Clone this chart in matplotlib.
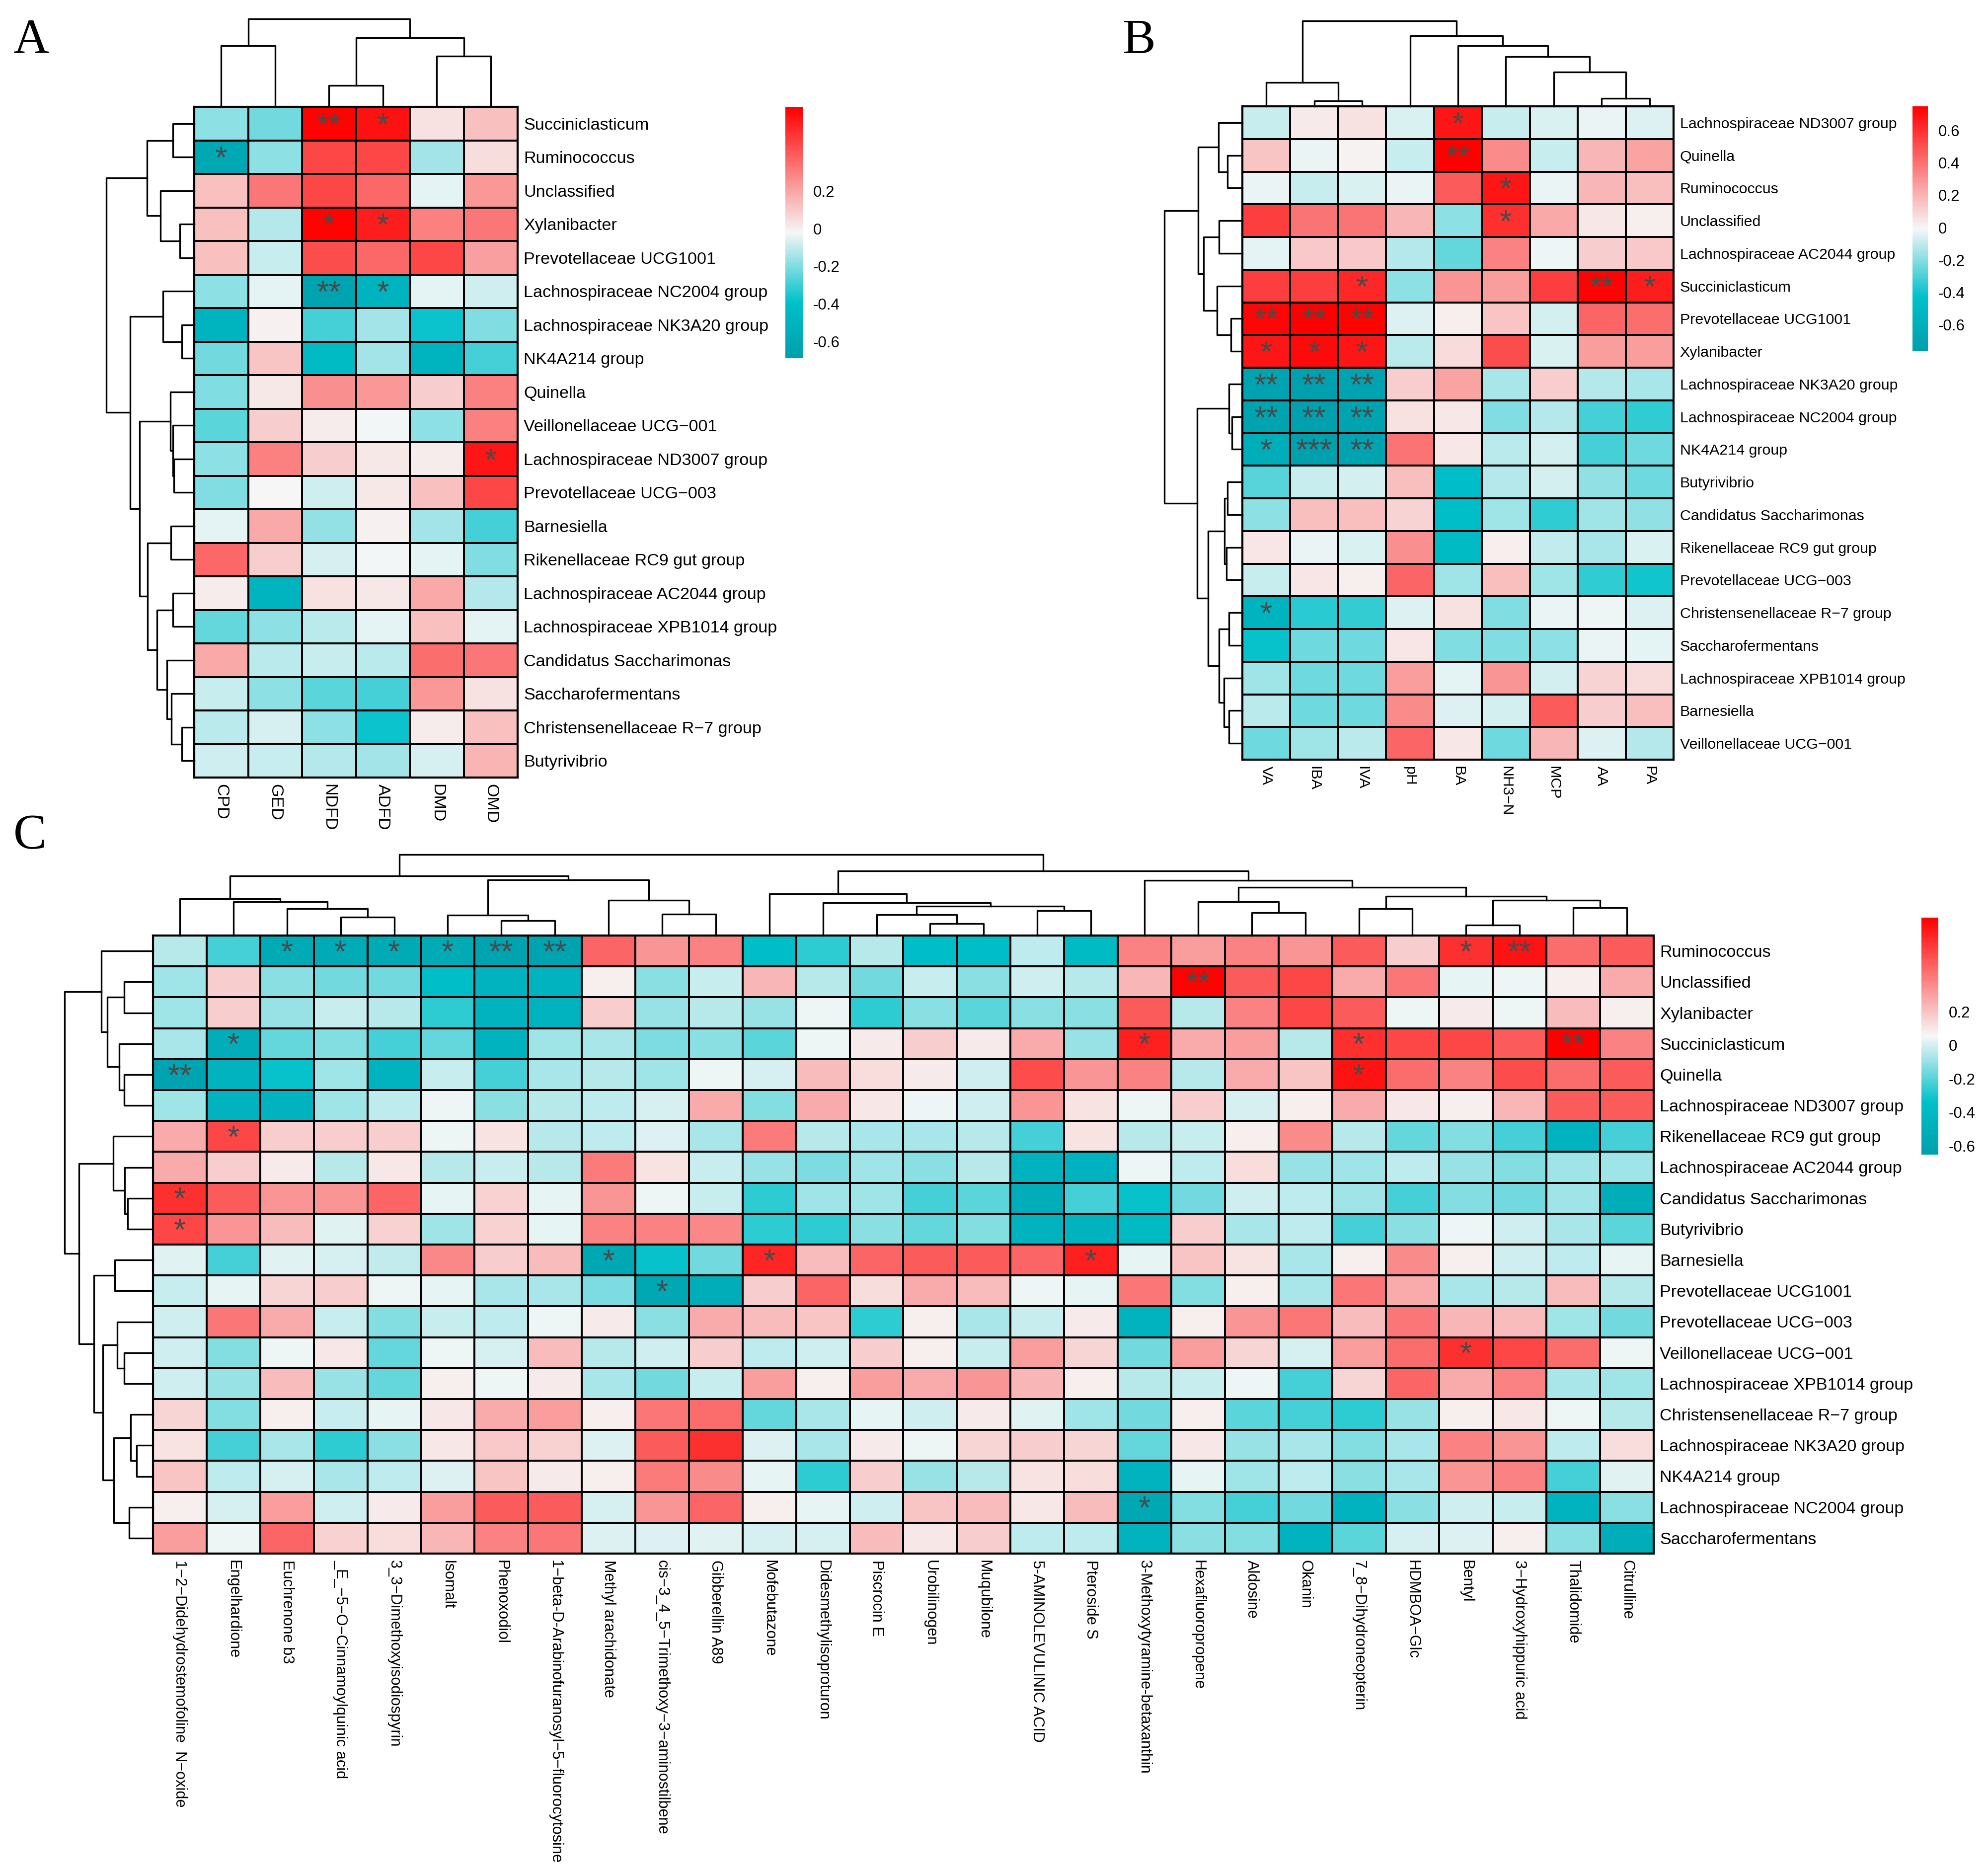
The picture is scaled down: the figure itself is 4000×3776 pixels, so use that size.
import numpy as np
import matplotlib
matplotlib.use("Agg")
import matplotlib.pyplot as plt
from matplotlib.colors import LinearSegmentedColormap

plt.rcParams['font.family'] = ['Liberation Sans', 'DejaVu Sans']

# ---------------- panel A ----------------
a_rows = ["Succiniclasticum", "Ruminococcus", "Unclassified", "Xylanibacter",
          "Prevotellaceae UCG1001", "Lachnospiraceae NC2004 group",
          "Lachnospiraceae NK3A20 group", "NK4A214 group", "Quinella",
          "Veillonellaceae UCG−001", "Lachnospiraceae ND3007 group",
          "Prevotellaceae UCG−003", "Barnesiella", "Rikenellaceae RC9 gut group",
          "Lachnospiraceae AC2044 group", "Lachnospiraceae XPB1014 group",
          "Candidatus Saccharimonas", "Saccharofermentans",
          "Christensenellaceae R−7 group", "Butyrivibrio"]
a_cols = ["CPD", "GED", "NDFD", "ADFD", "DMD", "OMD"]
a_vals = [
    [-0.18, -0.22, 0.64, 0.60, 0.04, 0.13],
    [-0.62, -0.18, 0.46, 0.46, -0.15, 0.05],
    [0.13, 0.33, 0.46, 0.37, -0.05, 0.24],
    [0.13, -0.12, 0.64, 0.57, 0.30, 0.33],
    [0.13, -0.09, 0.44, 0.37, 0.46, 0.22],
    [-0.18, -0.05, -0.66, -0.51, -0.05, -0.08],
    [-0.51, 0.00, -0.29, -0.15, -0.38, -0.20],
    [-0.22, 0.12, -0.45, -0.15, -0.51, -0.29],
    [-0.20, 0.02, 0.26, 0.24, 0.09, 0.30],
    [-0.26, 0.09, 0.01, -0.03, -0.18, 0.30],
    [-0.18, 0.30, 0.09, 0.02, 0.01, 0.59],
    [-0.20, -0.02, -0.08, 0.02, 0.13, 0.46],
    [-0.05, 0.19, -0.17, 0.00, -0.15, -0.29],
    [0.37, 0.09, -0.07, -0.03, -0.05, -0.20],
    [0.01, -0.51, 0.04, 0.02, 0.19, -0.12],
    [-0.24, -0.18, -0.11, -0.05, 0.13, -0.05],
    [0.19, -0.11, -0.09, -0.11, 0.35, 0.33],
    [-0.09, -0.18, -0.26, -0.29, 0.24, 0.04],
    [-0.11, -0.07, -0.18, -0.38, 0.01, 0.13],
    [-0.08, -0.09, -0.12, -0.15, -0.07, 0.16],
]
a_stars = {(0, 2): '**', (0, 3): '*', (1, 0): '*', (3, 2): '*', (3, 3): '*',
           (5, 2): '**', (5, 3): '*', (10, 5): '*'}
# trees: (left, right, merge height); leaves are display positions
a_col_tree = ((0, 1, 123), ((2, 3, 43), (4, 5, 102), 139), 177)
a_row_tree = (((0, 1, 43), (2, (3, 4, 29), 68), 95),
              ((5, (6, 7, 25), 63),
               ((8, (9, (10, 11, 41), 43), 48),
                ((12, 13, 47),
                 ((14, 15, 43), (16, (17, (18, 19, 25), 46), 55), 75), 94),
                110), 129), 177)

# ---------------- panel B ----------------
b_rows = ["Lachnospiraceae ND3007 group", "Quinella", "Ruminococcus", "Unclassified",
          "Lachnospiraceae AC2044 group", "Succiniclasticum", "Prevotellaceae UCG1001",
          "Xylanibacter", "Lachnospiraceae NK3A20 group", "Lachnospiraceae NC2004 group",
          "NK4A214 group", "Butyrivibrio", "Candidatus Saccharimonas",
          "Rikenellaceae RC9 gut group", "Prevotellaceae UCG−003",
          "Christensenellaceae R−7 group", "Saccharofermentans",
          "Lachnospiraceae XPB1014 group", "Barnesiella", "Veillonellaceae UCG−001"]
b_cols = ["VA", "IBA", "IVA", "pH", "BA", "NH3−N", "MCP", "AA", "PA"]
b_vals = [
    [-0.09, 0.03, 0.06, -0.06, 0.68, -0.09, -0.06, -0.03, -0.05],
    [0.15, -0.03, 0.01, -0.09, 0.75, 0.32, -0.09, 0.19, 0.25],
    [-0.03, -0.09, -0.06, -0.03, 0.47, 0.68, -0.03, 0.19, 0.17],
    [0.56, 0.39, 0.39, 0.19, -0.19, 0.60, 0.23, 0.04, 0.02],
    [-0.04, 0.14, 0.14, -0.12, -0.26, 0.35, -0.02, 0.12, 0.14],
    [0.56, 0.56, 0.63, -0.19, 0.29, 0.27, 0.56, 0.74, 0.66],
    [0.73, 0.75, 0.74, -0.05, 0.02, 0.15, -0.07, 0.44, 0.41],
    [0.68, 0.72, 0.68, -0.11, 0.08, 0.51, -0.06, 0.27, 0.27],
    [-0.72, -0.75, -0.72, 0.12, 0.25, -0.14, 0.12, -0.12, -0.14],
    [-0.72, -0.75, -0.72, 0.06, 0.04, -0.21, -0.12, -0.31, -0.35],
    [-0.62, -0.76, -0.72, 0.39, 0.04, -0.11, -0.07, -0.31, -0.24],
    [-0.28, -0.09, -0.07, 0.17, -0.46, -0.12, -0.07, -0.18, -0.24],
    [-0.19, 0.17, 0.17, 0.10, -0.46, -0.16, -0.35, -0.16, -0.18],
    [0.05, -0.03, -0.06, 0.31, -0.50, 0.02, -0.10, -0.14, -0.06],
    [-0.09, 0.05, 0.02, 0.44, -0.16, 0.17, -0.16, -0.35, -0.40],
    [-0.56, -0.36, -0.34, -0.05, 0.06, -0.21, -0.03, -0.02, -0.05],
    [-0.42, -0.24, -0.24, 0.05, -0.21, -0.21, -0.19, -0.03, -0.04],
    [-0.16, -0.24, -0.24, 0.27, -0.04, 0.29, -0.07, 0.10, 0.08],
    [-0.11, -0.24, -0.24, 0.32, -0.05, -0.07, 0.47, 0.12, 0.17],
    [-0.24, -0.16, -0.11, 0.44, 0.04, -0.24, 0.19, -0.05, -0.12],
]
b_stars = {(0, 4): '*', (1, 4): '**', (2, 5): '*', (3, 5): '*', (5, 2): '*',
           (5, 7): '**', (5, 8): '*', (6, 0): '**', (6, 1): '**', (6, 2): '**',
           (7, 0): '*', (7, 1): '*', (7, 2): '*', (8, 0): '**', (8, 1): '**',
           (8, 2): '**', (9, 0): '**', (9, 1): '**', (9, 2): '**', (10, 0): '*',
           (10, 1): '***', (10, 2): '**', (15, 0): '*'}
b_col_tree = ((0, (1, 2, 11), 48),
              (3, (4, (5, (6, (7, 8, 16), 69), 100), 122), 142), 172)
b_row_tree = (((0, (1, 2, 30), 48), ((3, 4, 47), (5, (6, 7, 23), 51), 78), 89),
              ((8, (9, 10, 21), 27),
               (((11, 12, 30), (13, 14, 32), 36),
                ((15, 16, 27), (17, (18, 19, 27), 37), 47), 69), 91), 157)

# ---------------- panel C ----------------
c_rows = ["Ruminococcus", "Unclassified", "Xylanibacter", "Succiniclasticum", "Quinella",
          "Lachnospiraceae ND3007 group", "Rikenellaceae RC9 gut group",
          "Lachnospiraceae AC2044 group", "Candidatus Saccharimonas", "Butyrivibrio",
          "Barnesiella", "Prevotellaceae UCG1001", "Prevotellaceae UCG−003",
          "Veillonellaceae UCG−001", "Lachnospiraceae XPB1014 group",
          "Christensenellaceae R−7 group", "Lachnospiraceae NK3A20 group",
          "NK4A214 group", "Lachnospiraceae NC2004 group", "Saccharofermentans"]
c_cols = ["1−2−Didehydrostemofoline  N−oxide", "Engelhardione", "Euchrenone b3",
          "_E_−5−O−Cinnamoylquinic acid", "3_3−Dimethoxyisodiospyrin", "Isomalt",
          "Phenoxodiol", "1−beta-D-Arabinofuranosyl−5−fluorocytosine",
          "Methyl arachidonate", "cis−3_4_5−Trimethoxy−3−aminostilbene",
          "Gibberellin A89", "Mofebutazone", "Didesmethylisoproturon", "Piscrocin E",
          "Urobilinogen", "Muqubilone", "5-AMINOLEVULINIC ACID", "Pteroside S",
          "3-Methoxytyramine-betaxanthin", "Hexafluoropropene", "Aldosine", "Okanin",
          "7_8−Dihydroneopterin", "HDMBOA−Glc", "Bentyl", "3−Hydroxyhippuric acid",
          "Thalidomide", "Citrulline"]
c_vals = [
    [-0.05, -0.23, -0.55, -0.55, -0.55, -0.55, -0.62, -0.62, 0.47, 0.33, 0.39, -0.37, -0.27, -0.05,
     -0.37, -0.37, -0.04, -0.41, 0.39, 0.31, 0.39, 0.33, 0.50, 0.17, 0.62, 0.70, 0.45, 0.50],
    [-0.09, 0.17, -0.12, -0.16, -0.16, -0.37, -0.47, -0.47, 0.08, -0.12, -0.02, 0.24, -0.05, -0.16,
     -0.02, -0.12, -0.01, -0.05, 0.24, 0.75, 0.50, 0.56, 0.27, 0.42, 0.03, 0.04, 0.08, 0.27],
    [-0.09, 0.17, -0.10, -0.02, -0.05, -0.27, -0.47, -0.47, 0.17, -0.10, -0.05, -0.10, 0.04, -0.27,
     -0.12, -0.20, -0.12, -0.12, 0.50, -0.05, 0.39, 0.56, 0.50, 0.04, 0.09, 0.04, 0.22, 0.08],
    [-0.07, -0.53, -0.18, -0.13, -0.23, -0.18, -0.47, -0.09, -0.07, -0.14, -0.12, -0.20, 0.04, 0.09,
     0.17, 0.09, 0.27, -0.10, 0.67, 0.27, 0.31, -0.05, 0.62, 0.56, 0.56, 0.50, 0.76, 0.39],
    [-0.62, -0.47, -0.33, -0.09, -0.47, -0.02, -0.23, -0.07, -0.05, -0.09, 0.04, 0.00, 0.22, 0.13,
     0.09, -0.01, 0.54, 0.33, 0.39, -0.05, 0.27, 0.20, 0.70, 0.45, 0.39, 0.54, 0.45, 0.50],
    [-0.09, -0.47, -0.47, -0.09, -0.04, 0.04, -0.12, -0.05, -0.04, 0.00, 0.27, -0.13, 0.27, 0.10,
     0.04, -0.01, 0.33, 0.11, 0.04, 0.17, 0.00, 0.08, 0.27, 0.10, 0.08, 0.24, 0.50, 0.50],
    [0.27, 0.56, 0.17, 0.17, 0.17, 0.04, 0.11, -0.05, -0.04, 0.01, -0.07, 0.41, -0.05, -0.07,
     -0.07, -0.05, -0.23, 0.11, -0.05, -0.02, 0.08, 0.36, -0.05, -0.18, -0.13, -0.23, -0.47, -0.23],
    [0.27, 0.17, 0.09, -0.05, 0.10, -0.05, -0.02, -0.05, 0.41, 0.11, -0.02, -0.10, -0.14, -0.09,
     -0.12, -0.05, -0.47, -0.47, 0.04, -0.04, 0.13, -0.10, -0.09, -0.04, -0.10, -0.13, -0.09, -0.09],
    [0.62, 0.50, 0.33, 0.33, 0.47, 0.03, 0.16, 0.03, 0.33, 0.04, -0.02, -0.27, -0.09, -0.09,
     -0.23, -0.20, -0.53, -0.23, -0.33, -0.16, -0.01, -0.04, -0.09, -0.23, -0.13, -0.16, -0.09, -0.53],
    [0.56, 0.33, 0.22, 0.02, 0.16, -0.09, 0.16, 0.03, 0.39, 0.39, 0.37, -0.27, -0.27, -0.12,
     -0.18, -0.13, -0.47, -0.47, -0.41, 0.17, -0.07, -0.04, -0.23, -0.12, 0.04, -0.01, -0.07, -0.20],
    [0.02, -0.23, 0.02, 0.00, -0.03, 0.37, 0.17, 0.22, -0.58, -0.33, -0.16, 0.65, 0.22, 0.47,
     0.50, 0.50, 0.47, 0.67, 0.03, 0.20, 0.11, -0.07, 0.08, 0.36, 0.08, -0.01, -0.04, 0.03],
    [-0.02, 0.03, 0.15, 0.17, 0.04, 0.03, -0.07, -0.07, -0.14, -0.58, -0.53, 0.17, 0.47, 0.13,
     0.27, 0.22, 0.04, 0.03, 0.42, -0.13, 0.08, -0.07, 0.42, 0.27, -0.07, -0.05, 0.22, -0.05],
    [-0.01, 0.42, 0.27, -0.02, -0.13, -0.02, -0.04, 0.04, 0.09, -0.12, 0.27, 0.22, 0.20, -0.27,
     0.08, -0.07, -0.02, 0.09, -0.47, 0.08, 0.33, 0.42, 0.22, 0.42, 0.24, 0.22, -0.09, -0.16],
    [-0.01, -0.13, 0.04, 0.10, -0.18, 0.04, 0.00, 0.22, -0.05, -0.01, 0.17, -0.04, -0.01, 0.17,
     0.08, -0.02, 0.31, 0.15, -0.16, 0.31, 0.15, 0.00, 0.31, 0.45, 0.62, 0.56, 0.45, 0.04],
    [-0.01, -0.10, 0.22, -0.10, -0.18, 0.08, 0.04, 0.09, -0.07, -0.16, -0.02, 0.31, 0.08, 0.31,
     0.27, 0.33, 0.24, 0.08, -0.05, -0.02, 0.04, -0.23, 0.15, 0.47, 0.27, 0.39, -0.07, -0.09],
    [0.15, -0.13, 0.08, -0.02, 0.03, 0.10, 0.27, 0.31, 0.08, 0.42, 0.45, -0.18, -0.07, 0.03,
     -0.01, 0.09, 0.02, -0.09, -0.16, 0.08, -0.20, -0.23, -0.27, -0.10, 0.08, 0.10, 0.04, -0.05],
    [0.11, -0.23, -0.07, -0.27, -0.12, 0.10, 0.19, 0.16, 0.01, 0.50, 0.62, 0.01, -0.07, 0.09,
     0.04, 0.15, 0.17, 0.15, -0.18, 0.10, -0.10, -0.07, -0.13, -0.07, 0.39, 0.33, -0.04, 0.13],
    [0.20, -0.04, 0.00, -0.07, -0.04, 0.01, 0.20, 0.09, 0.08, 0.41, 0.36, 0.03, -0.27, 0.17,
     -0.10, -0.05, 0.11, 0.13, -0.47, 0.03, -0.09, -0.04, -0.12, -0.07, 0.33, 0.39, -0.23, 0.02],
    [0.08, 0.00, 0.31, -0.01, 0.09, 0.31, 0.50, 0.50, 0.00, 0.33, 0.47, 0.08, 0.03, -0.01,
     0.20, 0.22, 0.10, 0.22, -0.58, -0.13, -0.23, -0.16, -0.47, -0.12, -0.01, -0.02, -0.47, -0.12],
    [0.31, 0.04, 0.47, 0.16, 0.13, 0.24, 0.39, 0.42, 0.01, 0.01, 0.02, 0.00, 0.00, 0.22,
     0.10, 0.17, -0.04, -0.04, -0.47, -0.12, -0.13, -0.47, -0.20, 0.00, 0.01, 0.08, -0.12, -0.53],
]
c_stars = {(0, 2): '*', (0, 3): '*', (0, 4): '*', (0, 5): '*', (0, 6): '**', (0, 7): '**',
           (0, 24): '*', (0, 25): '**', (1, 19): '**', (3, 1): '*', (3, 18): '*',
           (3, 22): '*', (3, 26): '**', (4, 0): '**', (4, 22): '*', (6, 1): '*',
           (8, 0): '*', (9, 0): '*', (10, 8): '*', (10, 11): '*', (10, 17): '*',
           (11, 9): '*', (13, 24): '*', (18, 18): '*'}
c_col_tree = (((0, (1, (2, (3, 4, 37), 54), 68), 74),
               ((5, (6, 7, 30), 41), (8, (9, 10, 43), 71), 112), 120),
              ((11, (12, ((13, (14, 15, 24), 42), (16, 17, 50), 59), 66), 84),
               (18, ((19, (20, 21, 46), 68),
                     ((22, 23, 54), ((24, 25, 21), (26, 27, 56), 71), 79), 97), 111),
               130), 163)
c_row_tree = ((0, ((1, 2, 58), (3, (4, 5, 58), 68), 92), 104),
              ((6, (7, (8, 9, 51), 57), 80),
               ((10, 11, 77),
                ((12, (13, 14, 58), 72), ((15, (16, 17, 33), 45), (18, 19, 48), 79), 101),
                119), 149), 178)

# ------------------------------------------------
W, H = 4000, 3776
fig = plt.figure(figsize=(W / 300, H / 300), dpi=300)

cmap = LinearSegmentedColormap.from_list(
    'tealred', [(0.0, '#00A0AD'), (0.22, '#00C1CA'), (0.5, '#F7F7F7'), (1.0, '#FF0000')])


def px_box(x0, y0, x1, y1):
    return [x0 / W, 1 - y1 / H, (x1 - x0) / W, (y1 - y0) / H]


def draw_tree(ax, node, side):
    if isinstance(node, int):
        return node + 0.5, 0.0
    left, right, h = node
    c1, h1 = draw_tree(ax, left, side)
    c2, h2 = draw_tree(ax, right, side)
    xs, ys = [c1, c1, c2, c2], [h1, h, h, h2]
    if side == 'left':
        xs, ys = ys, xs
    ax.plot(xs, ys, color='black', lw=0.8, clip_on=False)
    return (c1 + c2) / 2, h


def panel(vals, rows, cols, stars, row_tree, col_tree, hm, cb, vrange, ticks,
          row_fs=8.2, col_fs=8.2):
    vals = np.array(vals)
    nr, nc = vals.shape
    x0, y0, x1, y1 = hm
    vmin, vmax = vrange

    ax = fig.add_axes(px_box(*hm))
    ax.pcolormesh(np.arange(nc + 1), np.arange(nr + 1), vals, cmap=cmap,
                  vmin=vmin, vmax=vmax, edgecolors='black', linewidth=0.9)
    ax.set_xlim(0, nc)
    ax.set_ylim(nr, 0)
    for s in ax.spines.values():
        s.set_linewidth(1.0)
    ax.set_yticks(np.arange(nr) + 0.5)
    ax.set_yticklabels(rows, fontsize=row_fs)
    ax.yaxis.tick_right()
    ax.set_xticks(np.arange(nc) + 0.5)
    ax.set_xticklabels(cols, fontsize=col_fs, rotation=270)
    ax.tick_params(length=0, pad=3)
    for (r, c), s in stars.items():
        ax.text(c + 0.5, r + 0.58, s, ha='center', va='center', color='#4a4a4a',
                fontsize=15)

    # column dendrogram
    root_c = col_tree[2]
    axt = fig.add_axes(px_box(x0, y0 - root_c, x1, y0))
    draw_tree(axt, col_tree, 'top')
    axt.set_xlim(0, nc)
    axt.set_ylim(0, root_c)
    axt.axis('off')

    # row dendrogram
    root_r = row_tree[2]
    axl = fig.add_axes(px_box(x0 - root_r, y0, x0, y1))
    draw_tree(axl, row_tree, 'left')
    axl.set_xlim(root_r, 0)
    axl.set_ylim(nr, 0)
    axl.axis('off')

    # colour legend
    axc = fig.add_axes(px_box(*cb))
    axc.imshow(np.linspace(vmax, vmin, 300)[:, None], aspect='auto', cmap=cmap,
               vmin=vmin, vmax=vmax, extent=[0, 1, vmin, vmax])
    axc.set_xticks([])
    axc.yaxis.tick_right()
    axc.set_yticks(ticks)
    axc.set_yticklabels([('%g' % t) for t in ticks], fontsize=7.5)
    axc.tick_params(length=0, pad=5)
    for s in axc.spines.values():
        s.set_visible(False)


panel(a_vals, a_rows, a_cols, a_stars, a_row_tree, a_col_tree,
      (391, 215, 1042, 1565), (1581, 215, 1616, 721), (-0.69, 0.65),
      [0.2, 0, -0.2, -0.4, -0.6])
panel(b_vals, b_rows, b_cols, b_stars, b_row_tree, b_col_tree,
      (2501, 214, 3369, 1529), (3850, 214, 3881, 707), (-0.765, 0.75),
      [0.6, 0.4, 0.2, 0, -0.2, -0.4, -0.6], row_fs=7.3, col_fs=7.3)
panel(c_vals, c_rows, c_cols, c_stars, c_row_tree, c_col_tree,
      (308, 1883, 3329, 3127), (3868, 1847, 3902, 2324), (-0.653, 0.76),
      [0.2, 0, -0.2, -0.4, -0.6], col_fs=7.4)

for letter, x, y in [('A', 27, 38), ('B', 2259, 37), ('C', 27, 1638)]:
    fig.text(x / W, 1 - y / H, letter, ha='left', va='top', fontsize=24,
             family=['Liberation Serif', 'DejaVu Serif'])

fig.savefig('out.png', dpi=300)
